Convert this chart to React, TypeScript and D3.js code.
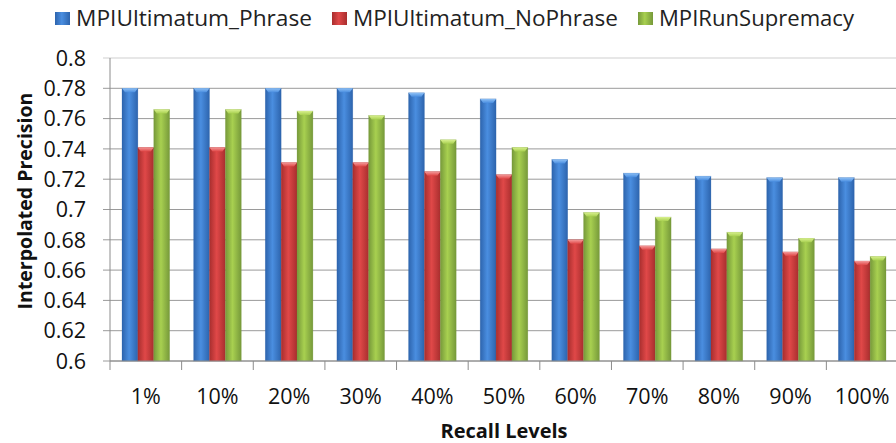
import React from "react";
import * as d3 from "d3";

const categories = ["1%", "10%", "20%", "30%", "40%", "50%", "60%", "70%", "80%", "90%", "100%"];
const seriesNames = ["MPIUltimatum_Phrase", "MPIUltimatum_NoPhrase", "MPIRunSupremacy"];
const phrase = [0.78, 0.78, 0.78, 0.78, 0.777, 0.773, 0.733, 0.724, 0.722, 0.721, 0.721];
const noPhrase = [0.741, 0.741, 0.731, 0.731, 0.725, 0.723, 0.68, 0.676, 0.674, 0.672, 0.666];
const runSupremacy = [0.766, 0.766, 0.765, 0.762, 0.746, 0.741, 0.698, 0.695, 0.685, 0.681, 0.669];
const yTicks = [0.6, 0.62, 0.64, 0.66, 0.68, 0.7, 0.72, 0.74, 0.76, 0.78, 0.8];

const W = 896;
const H = 443;
const M = { left: 110, top: 58, right: -2, bottom: 82 };

const PALETTE = [
  { id: "blue", edge: "#2d64ad", mid: "#4a8ee0", cap: "#8ec0f5" },
  { id: "red", edge: "#a82e2e", mid: "#e04848", cap: "#f39a9a" },
  { id: "green", edge: "#76993a", mid: "#a8d050", cap: "#d8f08e" },
];
const FONT = "'Open Sans', sans-serif";

export default function App() {
  const series = [phrase, noPhrase, runSupremacy];
  const iW = W - M.left - M.right;
  const iH = H - M.top - M.bottom;

  const x0 = d3.scaleBand().domain(categories).range([0, iW]).paddingInner(0.335).paddingOuter(0.1675);
  const x1 = d3.scaleBand().domain(seriesNames).range([0, x0.bandwidth()]);
  const y = d3.scaleLinear().domain([0.6, 0.8]).range([iH, 0]);
  const step = iW / categories.length;

  // legend swatch x and text width
  const legendX = [55, 332, 638];
  const legendW = [236, 265, 195];

  return (
    <svg width={W} height={H} style={{ position: "absolute", left: 0, top: 0, fontFamily: FONT }}>
      <defs>
        {PALETTE.map((p) => (
          <linearGradient key={p.id} id={`g-${p.id}`} x1="0" x2="1" y1="0" y2="0">
            <stop offset="0" stopColor={p.edge} />
            <stop offset="0.45" stopColor={p.mid} />
            <stop offset="1" stopColor={p.edge} />
          </linearGradient>
        ))}
        {PALETTE.map((p) => (
          <linearGradient key={p.id} id={`c-${p.id}`} x1="0" x2="0" y1="0" y2="1">
            <stop offset="0" stopColor={p.cap} />
            <stop offset="1" stopColor={p.mid} />
          </linearGradient>
        ))}
      </defs>

      {/* legend */}
      {seriesNames.map((s, i) => (
        <g key={s} transform={`translate(${legendX[i]},0)`}>
          <rect x={0} y={12} width={15} height={13} fill={`url(#g-${PALETTE[i].id})`} />
          <text x={21} y={26} fontSize={21.5} fill="#222" textLength={legendW[i]} lengthAdjust="spacingAndGlyphs">{s}</text>
        </g>
      ))}

      <g transform={`translate(${M.left},${M.top})`}>
        {/* grid */}
        {yTicks.map((t) => (
          <g key={t}>
            <line x1={-7} x2={iW} y1={y(t)} y2={y(t)} stroke={t === 0.8 ? "#cfcfcf" : "#9a9a9a"} strokeWidth={1} />
            <text x={-24} y={y(t)} dy="0.36em" textAnchor="end" fontSize={21.5} fill="#111">{d3.format("")(+t.toFixed(2))}</text>
          </g>
        ))}

        {/* bars */}
        {categories.map((c, ci) => (
          <g key={c} transform={`translate(${x0(c)},0)`}>
            {series.map((vals, si) => {
              const bx = x1(seriesNames[si])!;
              const bw = x1.bandwidth();
              const by = y(vals[ci]);
              const bh = iH - by;
              const p = PALETTE[si];
              return (
                <g key={si}>
                  <rect x={bx} y={by} width={bw} height={bh} fill={`url(#g-${p.id})`} stroke={p.edge} strokeOpacity={0.4} strokeWidth={0.6} />
                  <path d={`M${bx},${by}L${bx + bw},${by}L${bx + bw - 3},${by + 4}L${bx + 3},${by + 4}Z`} fill={`url(#c-${p.id})`} />
                </g>
              );
            })}
          </g>
        ))}

        {/* axes */}
        <line x1={0} x2={0} y1={0} y2={iH} stroke="#8c8c8c" />
        <line x1={0} x2={iW} y1={iH} y2={iH} stroke="#8c8c8c" />
        {categories.map((c, i) => (
          <line key={c} x1={i * step} x2={i * step} y1={iH} y2={iH + 9} stroke="#8c8c8c" />
        ))}
        {categories.map((c) => (
          <text key={c} x={x0(c)! + x0.bandwidth() / 2} y={iH + 43} textAnchor="middle" fontSize={21.5} fill="#111">{c}</text>
        ))}

        <text x={504 - M.left} y={iH + 77} textAnchor="middle" fontSize={20} fontWeight="bold" fill="#111">Recall Levels</text>
        <text transform={`translate(${32 - M.left},${201 - M.top}) rotate(-90)`} textAnchor="middle" fontSize={19.5} fontWeight="bold" fill="#111">Interpolated Precision</text>
      </g>
    </svg>
  );
}
